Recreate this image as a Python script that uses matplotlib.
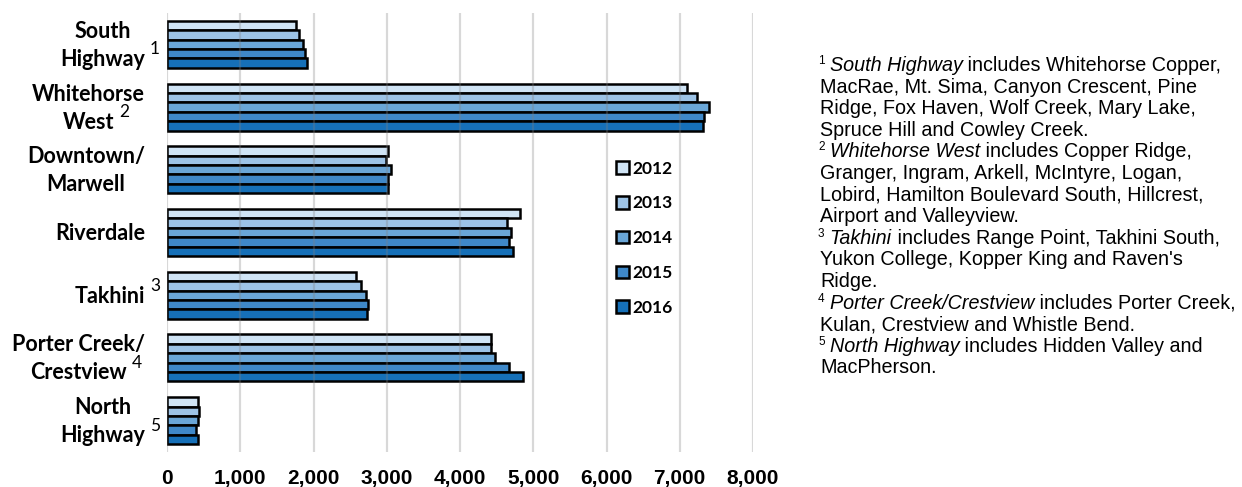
import matplotlib
matplotlib.use("Agg")
import matplotlib.pyplot as plt
from matplotlib.patches import Patch

# ---------------- data ----------------
categories = [["South", "Highway"], ["Whitehorse", "West"], ["Downtown/", "Marwell"],
              ["Riverdale"], ["Takhini"], ["Porter Creek/", "Crestview"], ["North", "Highway"]]
cat_notes = ["1", "2", "", "", "3", "4", "5"]
years = ["2012", "2013", "2014", "2015", "2016"]
v2012 = [1760, 7100, 3015, 4820, 2580, 4420, 425]
v2013 = [1800, 7235, 2990, 4640, 2650, 4430, 435]
v2014 = [1860, 7400, 3055, 4700, 2715, 4480, 430]
v2015 = [1885, 7330, 3020, 4670, 2745, 4670, 390]
v2016 = [1910, 7320, 3015, 4720, 2730, 4860, 420]
series = [v2012, v2013, v2014, v2015, v2016]
colors = ["#d0e4f5", "#9dc3e6", "#6aa6d7", "#3f88c8", "#1670b8"]
xticks = [0, 1000, 2000, 3000, 4000, 5000, 6000, 7000, 8000]

footnotes = [
    [("1", "sup"), ("South Highway", "it"), (" includes Whitehorse Copper,", "rm")],
    [("MacRae, Mt. Sima, Canyon Crescent, Pine", "rm")],
    [("Ridge, Fox Haven, Wolf Creek, Mary Lake,", "rm")],
    [("Spruce Hill and Cowley Creek.", "rm")],
    [("2", "sup"), ("Whitehorse West", "it"), (" includes Copper Ridge,", "rm")],
    [("Granger, Ingram, Arkell, McIntyre, Logan,", "rm")],
    [("Lobird, Hamilton Boulevard South, Hillcrest,", "rm")],
    [("Airport and Valleyview.", "rm")],
    [("3", "sup"), ("Takhini", "it"), (" includes Range Point, Takhini South,", "rm")],
    [("Yukon College, Kopper King and Raven's", "rm")],
    [("Ridge.", "rm")],
    [("4", "sup"), ("Porter Creek/Crestview", "it"), (" includes Porter Creek,", "rm")],
    [("Kulan, Crestview and Whistle Bend.", "rm")],
    [("5", "sup"), ("North Highway", "it"), (" includes Hidden Valley and", "rm")],
    [("MacPherson.", "rm")],
]

W, H = 1242, 487
fig = plt.figure(figsize=(W / 100, H / 100), dpi=100)
ax = fig.add_axes([167 / W, (H - 452) / H, (753 - 167) / W, (452 - 13) / H])
ax.set_xlim(0, 8000)
ax.set_ylim(len(categories) - 0.5, -0.5)

bh = 0.15
for j, (vals, col) in enumerate(zip(series, colors)):
    ys = [i + (j - 2) * bh for i in range(len(categories))]
    ax.barh(ys, vals, height=bh, color=col, edgecolor="black", linewidth=1.8, zorder=2)

ax.set_xticks(xticks)
ax.set_xticklabels([f"{t:,}" for t in xticks], fontfamily="Liberation Sans",
                   fontweight="bold", fontsize=15)
ax.tick_params(axis="x", length=0, pad=12)
ax.tick_params(axis="y", left=False, labelleft=False)
for x in xticks:
    ax.axvline(x, color="#808080", alpha=0.3, linewidth=1.6, zorder=3)
for s in ax.spines.values():
    s.set_visible(False)

fig.canvas.draw()
renderer = fig.canvas.get_renderer()

# category labels
lab_font = dict(fontfamily="Lato", fontweight="bold", fontsize=15.5)
right_px = 145
for i, (lines, note) in enumerate(zip(categories, cat_notes)):
    _, yc = ax.transData.transform((0, i))
    widths = []
    for ln in lines:
        t = fig.text(0, 0, ln, **lab_font)
        widths.append(t.get_window_extent(renderer).width)
        t.remove()
    wmax = max(widths)
    cx = right_px - wmax / 2
    n = len(lines)
    offs = [0] if n == 1 else [14, -14]
    last_right = None
    for ln, w, off in zip(lines, widths, offs):
        ycap = yc + off
        fig.text(cx / W, (ycap - 7.5) / H, ln, ha="center", va="baseline", **lab_font)
        last_right = cx + w / 2
        last_y = ycap
    if note:
        fig.text((last_right + 5) / W, (last_y + 9) / H, note, ha="left", va="center",
                 fontfamily="Lato", fontsize=12.5)

# legend
handles = [Patch(facecolor=c, edgecolor="black", linewidth=1.8) for c in colors]
leg = fig.legend(handles, years, loc="upper left",
                 bbox_to_anchor=(607 / W, (H - 152) / H), frameon=False,
                 handlelength=0.75, handleheight=0.75, handletextpad=0.2,
                 labelspacing=1.08, borderpad=0,
                 prop=dict(family="Lato", weight="bold", size=12.5))

# footnotes
fs = 14.2
x0 = 820
y_first = 65
dy = 21.6
for k, parts in enumerate(footnotes):
    ycen = H - (y_first + k * dy)
    x = x0 - 2 if parts[0][1] == "sup" else x0
    for txt, style in parts:
        if style == "sup":
            t = fig.text(x / W, (ycen + 4) / H, txt, fontfamily="Liberation Sans",
                         fontsize=8.5, va="center", ha="left")
            x += t.get_window_extent(renderer).width + 5
        else:
            t = fig.text(x / W, (ycen - 6) / H, txt, fontfamily="Liberation Sans",
                         fontsize=fs, va="baseline", ha="left",
                         fontstyle="italic" if style == "it" else "normal")
            x += t.get_window_extent(renderer).width

fig.savefig("out.png", dpi=100)
